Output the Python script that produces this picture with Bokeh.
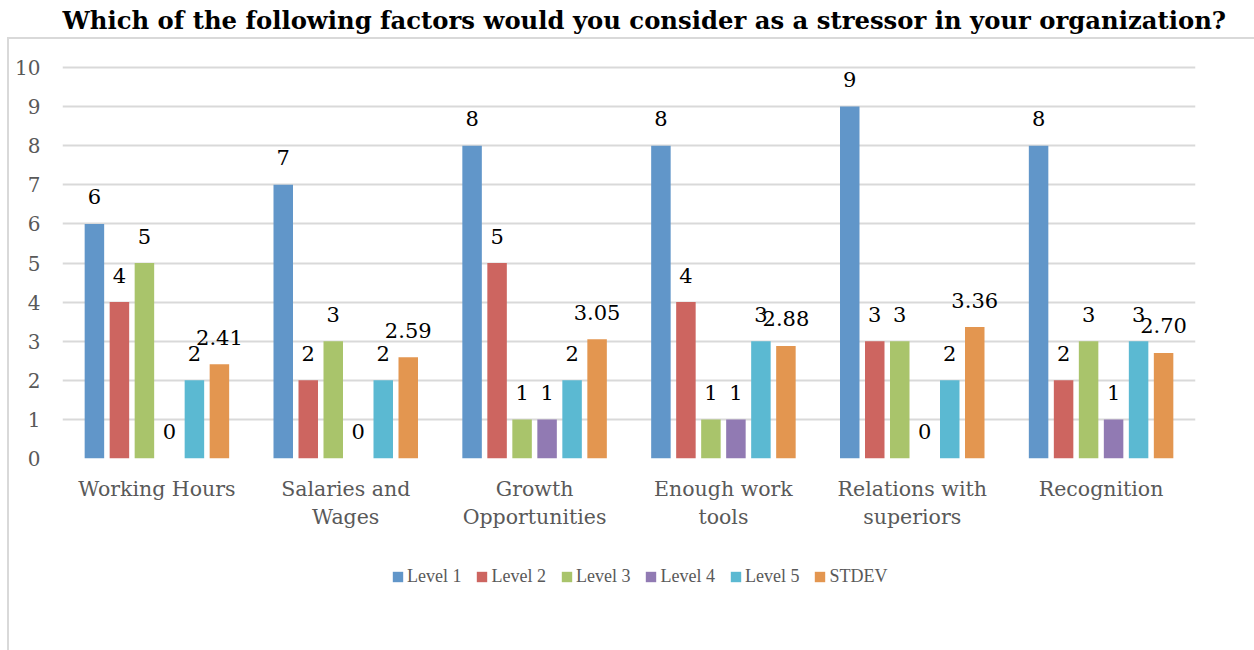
from bokeh.plotting import figure
from bokeh.layouts import column
from bokeh.models import (ColumnDataSource, FactorRange, Range1d, FixedTicker,
                          Legend, LegendItem)
from bokeh.transform import dodge
from bokeh.core.properties import value
from bokeh.embed import file_html
from bokeh.resources import INLINE

# ---- data ----
categories = ["Working Hours", "Salaries and\nWages", "Growth\nOpportunities",
              "Enough work\ntools", "Relations with\nsuperiors", "Recognition"]
series_names = ["Level 1", "Level 2", "Level 3", "Level 4", "Level 5", "STDEV"]
level1 = [6, 7, 8, 8, 9, 8]
level2 = [4, 2, 5, 4, 3, 2]
level3 = [5, 3, 1, 1, 3, 3]
level4 = [0, 0, 1, 1, 0, 1]
level5 = [2, 2, 2, 3, 2, 3]
stdev = [2.41, 2.59, 3.05, 2.88, 3.36, 2.70]
y_ticks = [0, 1, 2, 3, 4, 5, 6, 7, 8, 9, 10]
title_text = "Which of the following factors would you consider as a stressor in your organization?"

colors = ["#6196c9", "#cd6560", "#a9c46b", "#917ab3", "#5bb9d2", "#e39650"]
series_values = [level1, level2, level3, level4, level5, stdev]

FONT = "DejaVu Serif"

data = {"cat": categories}
for i, vals in enumerate(series_values):
    data[f"s{i}"] = vals
    if i == 5:
        data[f"t{i}"] = [f"{v:.2f}" for v in vals]
    else:
        data[f"t{i}"] = [str(v) for v in vals]
src = ColumnDataSource(data)

# ---- title strip ----
pt = figure(width=1254, height=37, output_backend="svg", toolbar_location=None,
            x_axis_location=None, y_axis_location=None,
            min_border_left=0, min_border_right=0, min_border_top=36, min_border_bottom=0,
            outline_line_color=None, border_fill_color="white")
pt.grid.visible = False
pt.title.text = title_text
pt.title.text_font = FONT
pt.title.text_font_style = "bold"
pt.title.text_font_size = "24.3px"
pt.title.text_color = "#000000"
pt.title.align = "left"
pt.title.offset = 62
pt.title.standoff = 3

# ---- main chart ----
BODY_LEFT = 9
BODY_TOP = 39
MAIN_H = 506
LEG_H = 650 - BODY_TOP - MAIN_H
BODY_W = 1254 - BODY_LEFT

unit_px = 39.1
frame_top = 60
y_end = 10 + (67 - frame_top) / unit_px

p = figure(width=BODY_W, height=MAIN_H, x_range=FactorRange(*categories, range_padding=0),
           y_range=Range1d(0, y_end), output_backend="svg", toolbar_location=None,
           min_border_left=62 - BODY_LEFT, min_border_right=59,
           min_border_top=frame_top - BODY_TOP,
           min_border_bottom=MAIN_H - (458 - BODY_TOP),
           background_fill_color="white", border_fill_color="white",
           outline_line_color=None)

cat_w = 1133 / 6.0
bar_w = 19.5 / cat_w
step = 25 / cat_w

for i, name in enumerate(series_names):
    off = (i - 2.5) * step
    p.vbar(x=dodge("cat", off, range=p.x_range), top=f"s{i}", width=bar_w,
           source=src, fill_color=colors[i], line_color=None)
    p.text(x=dodge("cat", off, range=p.x_range), y=f"s{i}", text=f"t{i}", source=src,
           text_font=value(FONT), text_font_size="21px", text_color="#000000",
           text_align="center", text_baseline="alphabetic", y_offset=-27)

p.yaxis.ticker = FixedTicker(ticks=y_ticks)
p.yaxis.axis_line_color = None
p.yaxis.major_tick_line_color = None
p.yaxis.minor_tick_line_color = None
p.yaxis.major_label_text_font = FONT
p.yaxis.major_label_text_font_size = "20px"
p.yaxis.major_label_text_color = "#595959"
p.yaxis.major_label_standoff = 16

p.xaxis.axis_line_color = None
p.xaxis.major_tick_line_color = None
p.xaxis.major_label_text_font = FONT
p.xaxis.major_label_text_font_size = "20.5px"
p.xaxis.major_label_text_color = "#595959"
p.xaxis.major_label_standoff = 12

p.xgrid.grid_line_color = None
p.ygrid.grid_line_color = "#d9d9d9"
p.ygrid.grid_line_width = 2

# ---- legend strip ----
pl = figure(width=BODY_W, height=LEG_H, output_backend="svg", toolbar_location=None,
            x_axis_location=None, y_axis_location=None,
            x_range=Range1d(0, 1), y_range=Range1d(0, 1),
            min_border_left=0, min_border_right=0, min_border_top=0, min_border_bottom=0,
            outline_line_color=None, border_fill_color="white")
pl.grid.visible = False
hidden = ColumnDataSource({"x": [-5.0], "top": [-5.0]})
leg_rs = [pl.vbar(x="x", top="top", bottom=-6.0, width=0.1, source=hidden,
                  fill_color=c, line_color=None)
          for c in colors]
legend = Legend(items=[LegendItem(label=n, renderers=[r]) for n, r in zip(series_names, leg_rs)],
                orientation="horizontal", location=(329, 63),
                glyph_width=13, glyph_height=13, label_standoff=3, spacing=14,
                label_text_font="Liberation Serif", label_text_font_size="18px",
                label_text_color="#595959", label_height=20,
                padding=0, margin=0, border_line_color=None,
                background_fill_alpha=0)
pl.add_layout(legend, "center")

body = column(p, pl, spacing=0,
              styles={"border-top": "2px solid #d9d9d9", "border-left": "2px solid #d9d9d9",
                      "margin-left": "7px"})
root = column(pt, body, spacing=0)

open("out.html", "w").write(file_html(root, INLINE))
